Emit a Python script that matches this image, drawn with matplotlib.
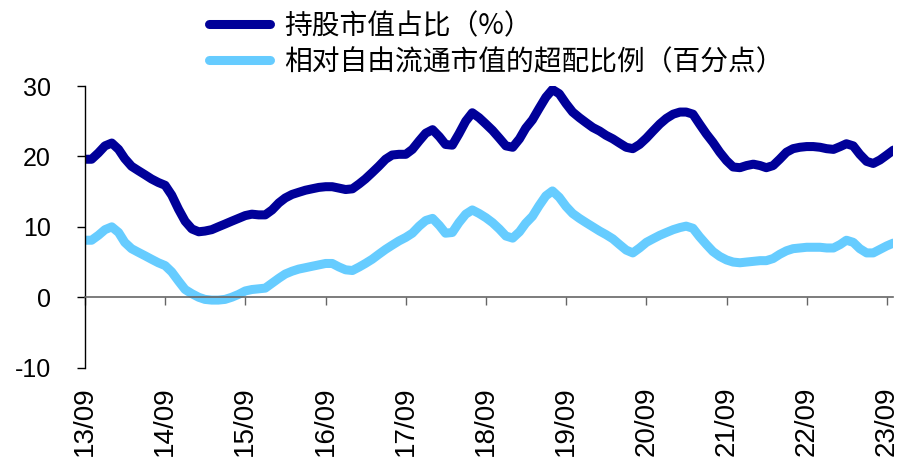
import matplotlib
matplotlib.use("Agg")
import matplotlib.pyplot as plt
import matplotlib.dates as mdates
import pandas as pd

plt.rcParams['font.family'] = ['Liberation Sans', 'Noto Sans CJK SC', 'DejaVu Sans']
plt.rcParams['axes.unicode_minus'] = False

# 月度数据：2013/09 - 2023/10
months = pd.date_range("2013-09-01", periods=122, freq="MS")

holding_pct = [
    19.6, 19.6, 20.5, 21.5, 21.9, 21.0, 19.7, 18.6, 18.0, 17.4, 16.8, 16.3,
    15.9, 14.5, 12.5, 10.8, 9.7, 9.3, 9.4, 9.6, 10.0, 10.4, 10.8, 11.2,
    11.6, 11.8, 11.7, 11.7, 12.4, 13.4, 14.1, 14.6, 14.9, 15.2, 15.4, 15.6,
    15.7, 15.7, 15.5, 15.3, 15.4, 16.1, 16.8, 17.7, 18.6, 19.6, 20.2, 20.3,
    20.3, 21.0, 22.2, 23.3, 23.8, 22.8, 21.7, 21.6, 23.2, 25.0, 26.2, 25.5,
    24.6, 23.7, 22.6, 21.5, 21.3, 22.5, 24.0, 25.2, 26.8, 28.4, 29.5, 28.9,
    27.5, 26.3, 25.5, 24.8, 24.1, 23.6, 23.0, 22.5, 21.9, 21.3, 21.1, 21.7,
    22.6, 23.6, 24.6, 25.4, 26.0, 26.3, 26.3, 26.0, 24.6, 23.2, 22.0, 20.6,
    19.4, 18.5, 18.4, 18.7, 18.9, 18.7, 18.4, 18.7, 19.6, 20.6, 21.1, 21.3,
    21.4, 21.4, 21.3, 21.1, 21.0, 21.4, 21.8, 21.5, 20.3, 19.3, 19.0, 19.5,
    20.2, 20.9,
]

overweight_pp = [
    8.1, 8.1, 8.8, 9.6, 10.0, 9.2, 7.8, 6.9, 6.4, 5.9, 5.4, 4.9,
    4.5, 3.6, 2.3, 1.1, 0.5, 0.0, -0.3, -0.4, -0.4, -0.3, 0.0, 0.4,
    0.9, 1.1, 1.2, 1.3, 2.0, 2.7, 3.3, 3.7, 4.0, 4.2, 4.4, 4.6,
    4.8, 4.8, 4.3, 3.9, 3.8, 4.3, 4.8, 5.4, 6.1, 6.8, 7.4, 8.0,
    8.5, 9.1, 10.1, 10.9, 11.2, 10.2, 9.1, 9.2, 10.6, 11.8, 12.4, 11.9,
    11.3, 10.6, 9.7, 8.7, 8.4, 9.3, 10.5, 11.5, 13.0, 14.4, 15.1, 14.2,
    12.9, 11.9, 11.2, 10.6, 10.0, 9.4, 8.9, 8.3, 7.5, 6.7, 6.3, 7.0,
    7.8, 8.3, 8.8, 9.2, 9.6, 9.9, 10.1, 9.8, 8.6, 7.5, 6.5, 5.8,
    5.3, 5.0, 4.9, 5.0, 5.1, 5.2, 5.2, 5.5, 6.1, 6.6, 6.9, 7.0,
    7.1, 7.1, 7.1, 7.0, 7.0, 7.5, 8.1, 7.8, 6.9, 6.3, 6.3, 6.8,
    7.3, 7.7,
]

labels = ["持股市值占比（%）", "相对自由流通市值的超配比例（百分点）"]
colors = ["#000099", "#66CCFF"]

fig = plt.figure(figsize=(9.01, 4.58), dpi=100)
ax = fig.add_axes([85 / 901, 1 - 367.7 / 458, (893.4 - 85) / 901, (367.7 - 86) / 458])

ax.plot(months, holding_pct, color=colors[0], lw=6.5, solid_capstyle="round",
        solid_joinstyle="round", label=labels[0])
ax.plot(months, overweight_pp, color=colors[1], lw=6.5, solid_capstyle="round",
        solid_joinstyle="round", label=labels[1])

ax.set_xlim(months[0], months[-1])
ax.set_ylim(-10, 30)
ax.set_yticks([-10, 0, 10, 20, 30])

# 横轴放在0处，标签放到最下方
ax.spines["top"].set_visible(False)
ax.spines["right"].set_visible(False)
ax.spines["bottom"].set_position(("data", 0))
ax.spines["bottom"].set_color("#666666")
ax.spines["left"].set_color("black")
ax.spines["left"].set_linewidth(1)
ax.spines["bottom"].set_linewidth(1.2)

ax.xaxis.set_major_locator(mdates.MonthLocator(bymonth=9))
ax.xaxis.set_major_formatter(mdates.DateFormatter("%y/%m"))
ax.tick_params(axis="x", direction="out", length=6, width=1, color="#666666",
               pad=58, labelsize=20, labelrotation=90)
ax.tick_params(axis="y", direction="out", length=6, width=1, color="black",
               pad=18.5, labelsize=18)

leg = ax.legend(loc="upper left", bbox_to_anchor=(209 / 901, 0.976),
                bbox_transform=fig.transFigure, frameon=False, borderpad=0,
                borderaxespad=0, handlelength=2.2, handletextpad=0.5,
                labelspacing=0.22, prop={"family": ["Noto Sans CJK SC", "DejaVu Sans"], "size": 20})

fig.savefig("out.png", dpi=100)
